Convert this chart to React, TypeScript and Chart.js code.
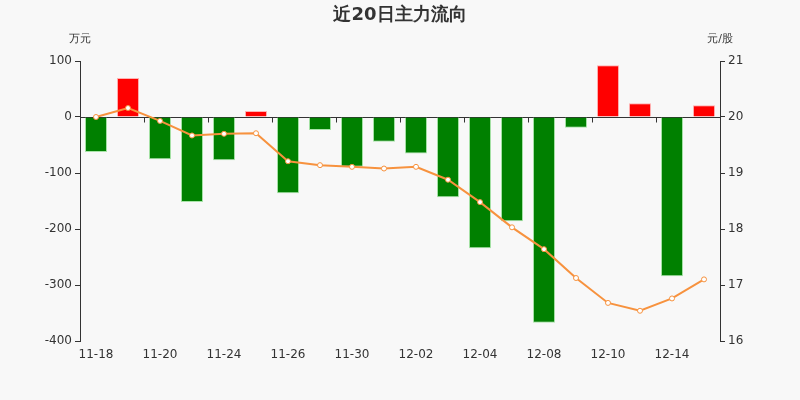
import React, { useEffect, useRef } from "react";
import { Chart, registerables } from "chart.js";

Chart.register(...registerables);

const titleText = "近20日主力流向";
const leftUnit = "万元";
const rightUnit = "元/股";

const dates = [
  "11-18", "11-19", "11-20", "11-23", "11-24", "11-25", "11-26", "11-27", "11-30", "12-01",
  "12-02", "12-03", "12-04", "12-07", "12-08", "12-09", "12-10", "12-11", "12-14", "12-15",
];

const flows = [
  -62.5, 69.6, -75.6, -151.8, -77.4, 10.7, -136.3, -23.2, -88.7, -44,
  -65, -143.4, -234.5, -186.3, -367.3, -19, 92.3, 24.4, -284.5, 20.8,
];

const prices = [
  20.0, 20.16, 19.93, 19.67, 19.7, 19.71, 19.21, 19.14, 19.11, 19.08,
  19.11, 18.88, 18.48, 18.03, 17.64, 17.125, 16.68, 16.54, 16.76, 17.1,
];

const leftMin = -400;
const leftMax = 100;
const leftStep = 100;
const rightMin = 16;
const rightMax = 21;
const rightStep = 1;

const FONT = "'DejaVu Sans', sans-serif";
const TEXT = "#333333";
const BG = "#f8f8f8";

const bgPlugin = {
  id: "bgFill",
  beforeDraw(chart: any) {
    const { ctx, width, height } = chart;
    ctx.save();
    ctx.fillStyle = BG;
    ctx.fillRect(0, 0, width, height);
    ctx.restore();
  },
};

const textPlugin = {
  id: "texts",
  afterDraw(chart: any) {
    const { ctx, chartArea } = chart;
    ctx.save();
    ctx.fillStyle = TEXT;
    ctx.textAlign = "center";
    ctx.textBaseline = "middle";
    ctx.font = `bold 18px ${FONT}`;
    ctx.fillText(titleText, chart.width / 2, 15);
    ctx.font = `11px ${FONT}`;
    ctx.fillText(leftUnit, chartArea.left, 39);
    ctx.fillText(rightUnit, chartArea.right, 39);
    ctx.restore();
  },
};

const zeroAxisPlugin = {
  id: "zeroAxis",
  beforeDatasetsDraw(chart: any) {
    const { ctx, chartArea } = chart;
    const x = chart.scales.x;
    const y0 = Math.round(chart.scales.y.getPixelForValue(0)) + 0.5;
    ctx.save();
    ctx.strokeStyle = TEXT;
    ctx.lineWidth = 1;
    ctx.beginPath();
    ctx.moveTo(chartArea.left, y0);
    ctx.lineTo(chartArea.right, y0);
    for (let i = 1; i < dates.length; i += 2) {
      const px =
        i + 1 < dates.length
          ? Math.round((x.getPixelForValue(i) + x.getPixelForValue(i + 1)) / 2) + 0.5
          : chartArea.right + 0.5;
      ctx.moveTo(px, y0);
      ctx.lineTo(px, y0 + 5);
    }
    ctx.stroke();
    ctx.restore();
  },
};

export default function App() {
  const ref = useRef<HTMLCanvasElement | null>(null);

  useEffect(() => {
    if (!ref.current) return;
    const chart = new Chart(ref.current, {
      type: "bar",
      data: {
        labels: dates,
        datasets: [
          {
            type: "line",
            label: "price",
            data: prices,
            yAxisID: "y1",
            borderColor: "#f7923e",
            borderWidth: 2,
            pointRadius: 2.5,
            pointBorderWidth: 1,
            pointBackgroundColor: "#ffffff",
            pointBorderColor: "#f7923e",
            tension: 0,
            order: 0,
          } as any,
          {
            type: "bar",
            label: "flow",
            data: flows,
            yAxisID: "y",
            backgroundColor: flows.map((v) => (v >= 0 ? "#ff0000" : "#008000")),
            borderColor: flows.map((v) => (v >= 0 ? "rgba(255,170,170,0.9)" : "rgba(160,225,160,0.9)")),
            borderWidth: 1,
            borderSkipped: "start",
            barPercentage: 0.69,
            categoryPercentage: 1,
            order: 1,
          } as any,
        ],
      },
      options: {
        responsive: false,
        animation: false,
        devicePixelRatio: 1,
        layout: { padding: { top: 61, left: 0, right: 0, bottom: 0 } },
        plugins: {
          legend: { display: false },
          title: { display: false },
          tooltip: { enabled: false },
        },
        scales: {
          x: {
            position: "bottom",
            grid: { display: false, drawTicks: false },
            border: { display: false },
            ticks: {
              autoSkip: false,
              maxRotation: 0,
              minRotation: 0,
              padding: 7,
              color: TEXT,
              font: { family: FONT, size: 12 },
              callback: (_v: any, i: number) => (i % 2 === 0 ? dates[i] : ""),
            },
            afterFit: (s: any) => {
              s.height = 59;
            },
          },
          y: {
            position: "left",
            min: leftMin,
            max: leftMax,
            ticks: {
              stepSize: leftStep,
              color: TEXT,
              padding: 3,
              font: { family: FONT, size: 12 },
            },
            grid: { drawOnChartArea: false, drawTicks: true, tickLength: 5, color: TEXT },
            border: { display: true, color: TEXT },
            afterFit: (s: any) => {
              s.width = 80;
            },
          },
          y1: {
            position: "right",
            min: rightMin,
            max: rightMax,
            ticks: {
              stepSize: rightStep,
              color: TEXT,
              padding: 3,
              font: { family: FONT, size: 12 },
            },
            grid: { drawOnChartArea: false, drawTicks: true, tickLength: 5, color: TEXT },
            border: { display: true, color: TEXT },
            afterFit: (s: any) => {
              s.width = 80;
            },
          },
        },
      } as any,
      plugins: [bgPlugin, zeroAxisPlugin, textPlugin],
    });
    return () => chart.destroy();
  }, []);

  return (
    <div style={{ position: "fixed", left: 0, top: 0, width: 800, height: 400, background: BG }}>
      <canvas ref={ref} width={800} height={400} style={{ display: "block" }} />
    </div>
  );
}
